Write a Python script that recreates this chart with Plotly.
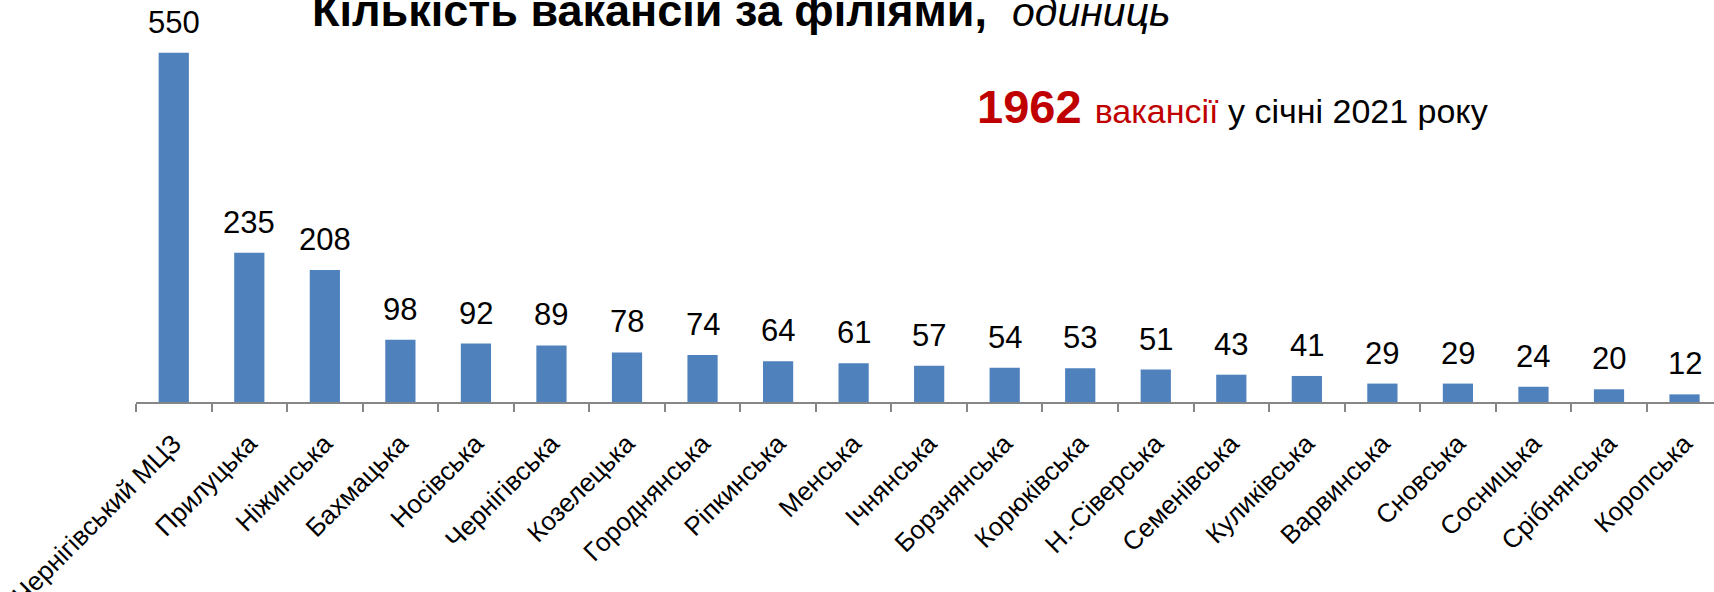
import plotly.graph_objects as go

# branch names and vacancies, January 2021
branches = [
    "Чернігівський МЦЗ", "Прилуцька", "Ніжинська", "Бахмацька", "Носівська",
    "Чернігівська", "Козелецька", "Городнянська", "Ріпкинська", "Менська",
    "Ічнянська", "Борзнянська", "Корюківська", "Н.-Сіверська", "Семенівська",
    "Куликівська", "Варвинська", "Сновська", "Сосницька", "Срібнянська",
    "Коропська",
]
vacancies = [550, 235, 208, 98, 92, 89, 78, 74, 64, 61, 57, 54, 53, 51, 43,
             41, 29, 29, 24, 20, 12]
total = 1962

BLUE = "#4F81BD"
RED = "#C00000"
FONT = "Liberation Sans, Arial, sans-serif"

W, H = 1714, 592
ML, MB = 136, 190
plot_h = H - MB

fig = go.Figure(go.Bar(
    x=branches, y=vacancies,
    marker=dict(color=BLUE, line=dict(width=0)),
    width=0.4,
    hoverinfo="x+y",
))

# value labels above bars
for name, v in zip(branches, vacancies):
    fig.add_annotation(
        x=name, y=v, text=str(v), showarrow=False,
        yanchor="bottom", yshift=11,
        font=dict(family=FONT, size=31, color="#000000"),
    )


def py(px):
    # pixel row -> paper y
    return (plot_h - px) / plot_h


def px_x(px):
    return (px - ML) / (W - ML)


fig.add_annotation(
    xref="paper", yref="paper", x=px_x(310), y=py(38),
    xanchor="left", yanchor="bottom", showarrow=False,
    text="<b>Кількість вакансій за філіями,</b>&nbsp; "
         "<span style='font-size:41px'><i>одиниць</i></span>",
    font=dict(family=FONT, size=45, color="#000000"),
)

fig.add_annotation(
    xref="paper", yref="paper", x=px_x(975), y=py(135),
    xanchor="left", yanchor="bottom", showarrow=False,
    text=f"<span style='color:{RED}'><b>{total}</b></span> "
         f"<span style='font-size:34px'>"
         f"<span style='color:{RED}'>вакансії</span> у січні 2021 року</span>",
    font=dict(family=FONT, size=47, color="#000000"),
)

fig.update_layout(
    width=W, height=H,
    margin=dict(l=ML, r=0, t=0, b=MB, autoexpand=False),
    plot_bgcolor="white", paper_bgcolor="white",
    showlegend=False,
    xaxis=dict(
        type="category", automargin=False,
        range=[-0.5, 20.39],
        showline=True, linecolor="#868686", linewidth=2,
        ticks="outside", tickson="boundaries", ticklen=8,
        tickcolor="#868686", tickwidth=1.5,
        tickangle=-45, ticklabelstandoff=14,
        tickfont=dict(family=FONT, size=26, color="#000000"),
        showgrid=False, zeroline=False,
    ),
    yaxis=dict(
        range=[0, 633], visible=False, showgrid=False, zeroline=False,
    ),
)

fig.write_html(
    "out.html",
    config={"displayModeBar": False},
    post_script="document.body.style.margin='0';document.body.style.overflow='hidden';",
)
